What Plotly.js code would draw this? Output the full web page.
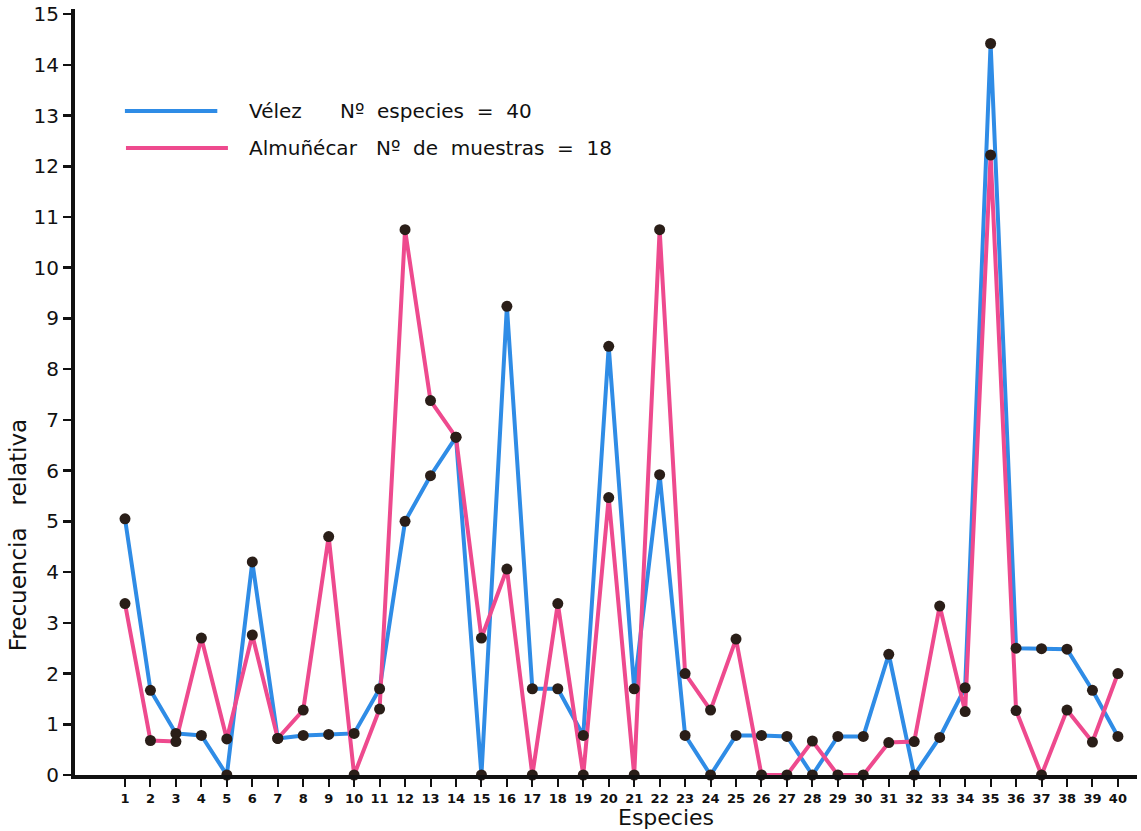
<!DOCTYPE html>
<html>
<head>
<meta charset="utf-8">
<script src="https://cdn.plot.ly/plotly-3.0.1.min.js"></script>
<style>html,body{margin:0;padding:0;background:#fff;}#chart{width:1141px;height:831px;}</style>
</head>
<body>
<div id="chart"></div>
<script>
// ---- Data ----
const species = [1,2,3,4,5,6,7,8,9,10,11,12,13,14,15,16,17,18,19,20,21,22,23,24,25,26,27,28,29,30,31,32,33,34,35,36,37,38,39,40];
const velez = [5.05,1.67,0.82,0.78,0,4.2,0.72,0.78,0.8,0.82,1.7,5.0,5.9,6.66,0,9.24,1.7,1.7,0.78,8.45,1.7,5.92,0.78,0,0.78,0.78,0.76,0,0.76,0.76,2.38,0,0.74,1.72,14.42,2.5,2.49,2.48,1.67,0.76];
const almunecar = [3.38,0.68,0.66,2.7,0.71,2.76,0.72,1.28,4.7,0,1.3,10.75,7.38,6.66,2.7,4.06,0,3.38,0,5.47,0,10.75,2.0,1.28,2.68,0,0,0.67,0,0,0.64,0.66,3.33,1.25,12.22,1.27,0,1.28,0.65,2.0];
const seriesNames = ["Vélez", "Almuñécar"];
const seriesNotes = ["Nº especies = 40", "Nº de muestras = 18"];
const yTicks = [0,1,2,3,4,5,6,7,8,9,10,11,12,13,14,15];
const xTitle = "Especies";
const yTitle = "Frecuencia relativa";

// ---- Styles ----
const BLUE = "#2f8ce6";
const PINK = "#ee4a8e";
const DOT = "#2a1e18";
const FONT = "DejaVu Sans, sans-serif";
const NB = "\u00a0";
const spread = (s) => s.split(" ").join(NB + NB);

const lineTrace = (y, color) => ({
  x: species, y: y, type: "scatter", mode: "lines",
  line: {color: color, width: 4}, cliponaxis: false, showlegend: false, hoverinfo: "skip"
});
const dotTrace = (y) => ({
  x: species, y: y, type: "scatter", mode: "markers",
  marker: {color: DOT, size: 11}, cliponaxis: false, showlegend: false
});

const data = [
  lineTrace(velez, BLUE),
  lineTrace(almunecar, PINK),
  dotTrace(velez),
  dotTrace(almunecar)
];

const layout = {
  width: 1141, height: 831,
  margin: {l: 75, r: 4, t: 9, b: 56},
  paper_bgcolor: "#fff", plot_bgcolor: "#fff",
  font: {family: FONT, color: "#111"},
  xaxis: {
    range: [-0.964, 40.75],
    tickmode: "array", tickvals: species, ticktext: species.map(String),
    ticks: "outside", ticklen: 8, tickwidth: 2, tickcolor: "#111",
    tickfont: {size: 13, weight: "bold", family: FONT, color: "#111"},
    showgrid: false, zeroline: false,
    showline: true, linecolor: "#111", linewidth: 4
  },
  yaxis: {
    range: [0, 15.1],
    tickmode: "array", tickvals: yTicks, ticktext: yTicks.map(String),
    ticks: "outside", ticklen: 8, tickwidth: 2.5, tickcolor: "#111",
    tickfont: {size: 20, family: FONT, color: "#111"},
    showgrid: false, zeroline: false,
    showline: true, linecolor: "#111", linewidth: 4
  },
  shapes: [
    {type: "line", xref: "paper", yref: "paper", x0: 0.047, x1: 0.134, y0: 0.867, y1: 0.867, line: {color: BLUE, width: 4}},
    {type: "line", xref: "paper", yref: "paper", x0: 0.048, x1: 0.144, y0: 0.8185, y1: 0.8185, line: {color: PINK, width: 4}}
  ],
  annotations: [
    {xref: "paper", yref: "paper", x: 0.162, y: 0.867, xanchor: "left", yanchor: "middle", showarrow: false,
     text: seriesNames[0] + NB.repeat(6) + spread(seriesNotes[0]), font: {size: 20, family: FONT, color: "#111"}},
    {xref: "paper", yref: "paper", x: 0.162, y: 0.8185, xanchor: "left", yanchor: "middle", showarrow: false,
     text: seriesNames[1] + NB.repeat(3) + spread(seriesNotes[1]), font: {size: 20, family: FONT, color: "#111"}},
    {xref: "paper", yref: "paper", x: 0.5565, y: -0.056, xanchor: "center", yanchor: "middle", showarrow: false,
     text: xTitle, font: {size: 22, family: FONT, color: "#111"}},
    {xref: "paper", yref: "paper", x: -0.0537, y: 0.313, xanchor: "center", yanchor: "middle", showarrow: false,
     textangle: -90, text: yTitle.replace(" ", NB.repeat(3)), font: {size: 23, family: FONT, color: "#111"}}
  ]
};

Plotly.newPlot("chart", data, layout, {displayModeBar: false, staticPlot: true});
</script>
</body>
</html>
